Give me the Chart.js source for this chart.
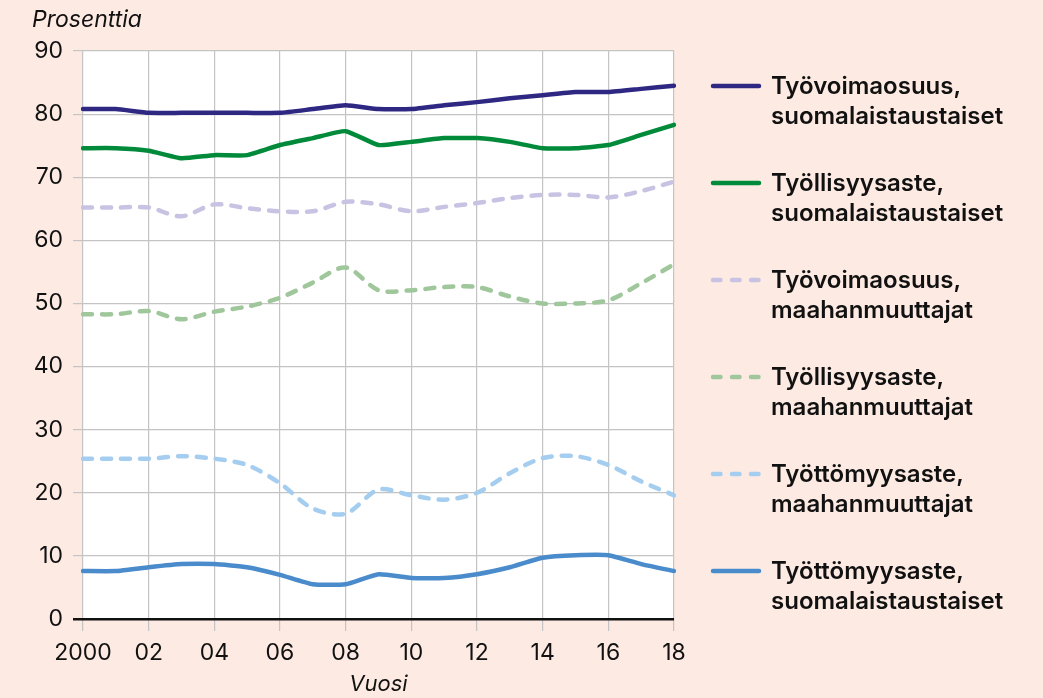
<!DOCTYPE html>
<html>
<head>
<meta charset="utf-8">
<script src="https://cdn.jsdelivr.net/npm/chart.js@4"></script>
<style>
  html, body { margin: 0; padding: 0; background: #fdebe3; }
  #wrap { width: 1043px; height: 698px; position: relative; }
</style>
</head>
<body>
<div id="wrap"><canvas id="chart"></canvas></div>
<script>
// years on the x axis
const years = ["2000", "2001", "2002", "2003", "2004", "2005", "2006", "2007", "2008", "2009",
               "2010", "2011", "2012", "2013", "2014", "2015", "2016", "2017", "2018"];

const tyovoimaSuomi = [80.8, 80.8, 80.2, 80.2, 80.2, 80.2, 80.2, 80.8, 81.4, 80.8, 80.8, 81.4, 81.9, 82.5, 83.0, 83.5, 83.5, 84.0, 84.5];
const tyollisyysSuomi = [74.6, 74.6, 74.2, 73.0, 73.5, 73.5, 75.1, 76.2, 77.3, 75.1, 75.6, 76.2, 76.2, 75.6, 74.6, 74.6, 75.1, 76.7, 78.3];
const tyovoimaMaahan = [65.2, 65.2, 65.2, 63.8, 65.7, 65.1, 64.6, 64.6, 66.1, 65.7, 64.6, 65.3, 65.9, 66.7, 67.2, 67.2, 66.8, 67.8, 69.3];
const tyollisyysMaahan = [48.3, 48.3, 48.8, 47.5, 48.7, 49.5, 50.9, 53.3, 55.7, 52.1, 52.1, 52.6, 52.6, 51.1, 50.0, 50.0, 50.5, 53.2, 56.2];
const tyottomyysMaahan = [25.4, 25.4, 25.4, 25.8, 25.4, 24.4, 21.5, 17.5, 16.7, 20.5, 19.6, 18.9, 20.0, 23.1, 25.5, 25.8, 24.4, 21.8, 19.6];
const tyottomyysSuomi = [7.6, 7.6, 8.2, 8.7, 8.7, 8.2, 7.0, 5.5, 5.5, 7.1, 6.5, 6.5, 7.1, 8.2, 9.7, 10.1, 10.1, 8.7, 7.6];

const seriesNames = [
    ["Työvoimaosuus,", "suomalaistaustaiset"],
    ["Työllisyysaste,", "suomalaistaustaiset"],
    ["Työvoimaosuus,", "maahanmuuttajat"],
    ["Työllisyysaste,", "maahanmuuttajat"],
    ["Työttömyysaste,", "maahanmuuttajat"],
    ["Työttömyysaste,", "suomalaistaustaiset"]
];

const FONT = "Inter, 'Noto Sans', sans-serif";
const BG = "#fdebe3";

function lineSet(name, values, color, dashed) {
    return {
        label: name.join(" "),
        data: values,
        borderColor: color,
        backgroundColor: color,
        borderWidth: 4.5,
        borderDash: dashed ? [9, 10] : [],
        borderCapStyle: "round",
        borderJoinStyle: "round",
        tension: dashed ? 0.3 : 0.15,
        pointRadius: 0,
        fill: false
    };
}

const datasets = [
    lineSet(seriesNames[0], tyovoimaSuomi, "#2e2883", false),
    lineSet(seriesNames[1], tyollisyysSuomi, "#008a3a", false),
    lineSet(seriesNames[2], tyovoimaMaahan, "#c8c3e3", true),
    lineSet(seriesNames[3], tyollisyysMaahan, "#9fc79b", true),
    lineSet(seriesNames[4], tyottomyysMaahan, "#a4cdf0", true),
    lineSet(seriesNames[5], tyottomyysSuomi, "#4a8bcb", false)
];

// pink page, white plot area
const backdrop = {
    id: "backdrop",
    beforeDraw(chart) {
        const ctx = chart.ctx;
        const a = chart.chartArea;
        ctx.save();
        ctx.fillStyle = BG;
        ctx.fillRect(0, 0, chart.width, chart.height);
        ctx.fillStyle = "#ffffff";
        ctx.fillRect(a.left, a.top, a.right - a.left, a.bottom - a.top);
        ctx.restore();
    }
};

// legend on the right with two-line labels, plus the y axis caption
const sideLegend = {
    id: "sideLegend",
    afterDraw(chart) {
        const ctx = chart.ctx;
        ctx.save();
        ctx.fillStyle = "#111111";
        ctx.font = "italic 23px " + FONT;
        ctx.textBaseline = "alphabetic";
        ctx.textAlign = "left";
        ctx.fillText("Prosenttia", 32, 27);

        chart.data.datasets.forEach((ds, i) => {
            const y = 86 + i * 97;
            ctx.beginPath();
            ctx.strokeStyle = ds.borderColor;
            ctx.lineWidth = 4.5;
            ctx.lineCap = "round";
            ctx.setLineDash(ds.borderDash.length ? [7.5, 11.5] : []);
            ctx.moveTo(713, y);
            ctx.lineTo(759, y);
            ctx.stroke();
            ctx.setLineDash([]);
            ctx.fillStyle = "#111111";
            ctx.font = "600 24px " + FONT;
            ctx.fillText(seriesNames[i][0], 771, y + 8);
            ctx.fillText(seriesNames[i][1], 771, y + 38);
        });
        ctx.restore();
    }
};

new Chart(document.getElementById("chart"), {
    type: "line",
    data: { labels: years, datasets: datasets },
    plugins: [backdrop, sideLegend],
    options: {
        responsive: true,
        maintainAspectRatio: false,
        animation: false,
        layout: { padding: { top: 51, right: 369, bottom: 0, left: 0 } },
        plugins: {
            legend: { display: false },
            tooltip: { enabled: false }
        },
        scales: {
            x: {
                afterFit(scale) { scale.height = 79; },
                grid: {
                    color: "#c4c4c4",
                    lineWidth: 1.2,
                    tickLength: 12
                },
                border: { display: false },
                ticks: {
                    autoSkip: false,
                    maxRotation: 0,
                    padding: 8,
                    color: "#111111",
                    font: { family: FONT, size: 23 },
                    callback(value, index) {
                        if (index % 2 !== 0) return null;
                        const y = years[index];
                        return index === 0 ? y : y.slice(2);
                    }
                },
                title: {
                    display: true,
                    text: "Vuosi",
                    color: "#111111",
                    padding: { top: 0, bottom: 0 },
                    font: { family: FONT, size: 22, style: "italic" }
                }
            },
            y: {
                min: 0,
                max: 90,
                afterFit(scale) { scale.width = 83; },
                grid: {
                    color: (c) => c.tick && c.tick.value === 0 ? "#111111" : "#c4c4c4",
                    lineWidth: (c) => c.tick && c.tick.value === 0 ? 2.5 : 1.2,
                    tickLength: 10
                },
                border: { display: false },
                ticks: {
                    stepSize: 10,
                    padding: 10,
                    color: "#111111",
                    font: { family: FONT, size: 23 }
                }
            }
        }
    }
});
</script>
</body>
</html>
